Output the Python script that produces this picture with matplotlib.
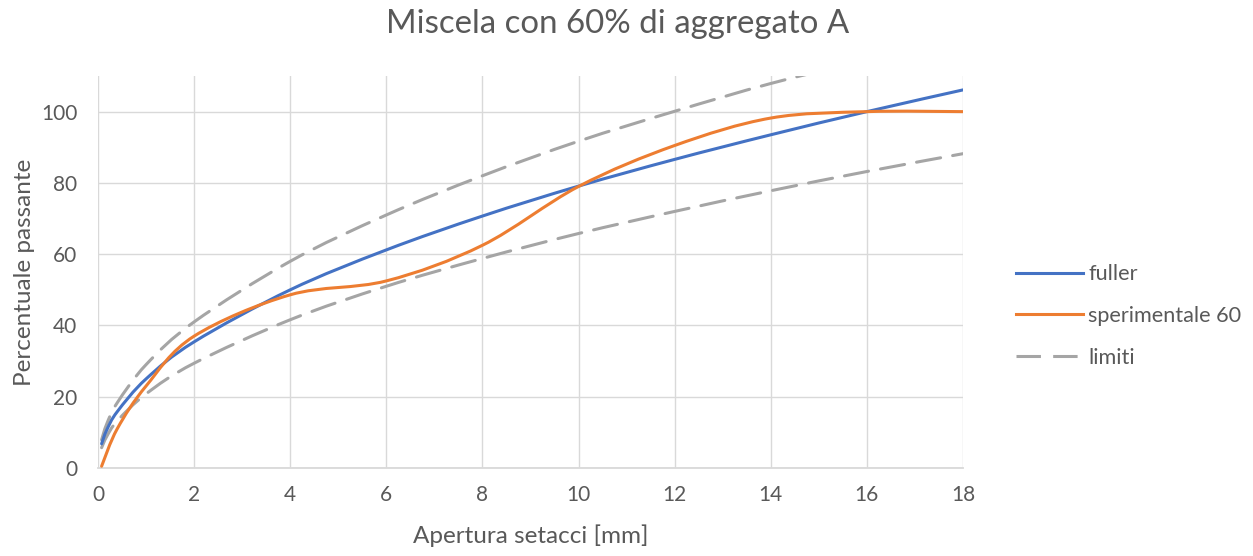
import numpy as np
import matplotlib.pyplot as plt
from matplotlib.path import Path
from matplotlib.patches import PathPatch
from matplotlib.lines import Line2D

# sieve openings [mm] and percent passing
sieves = [0.075, 0.18, 0.4, 1, 2, 4, 6, 8, 10, 12, 14, 16, 18]
fuller = [6.8, 10.6, 15.8, 25.0, 35.4, 50.0, 61.2, 70.7, 79.1, 86.6, 93.5, 100.0, 106.1]
lim_sup = [7.9, 12.3, 18.3, 29.0, 41.0, 58.0, 71.0, 82.0, 91.7, 100.1, 107.9, 114.5, 121.0]
lim_inf = [5.7, 8.8, 13.2, 20.8, 29.4, 41.6, 51.0, 58.8, 65.8, 72.0, 77.8, 83.2, 88.2]

sieves_exp = [0.075, 0.4, 1, 2, 4, 6, 8, 10, 12, 14, 16, 18]
sperim_60 = [0.5, 11.0, 23.0, 37.0, 48.6, 52.5, 62.5, 79.0, 90.5, 98.2, 100.0, 100.0]

BLUE = "#4472C4"
ORANGE = "#ED7D31"
GREY = "#A5A5A5"
TEXT = "#595959"
GRID = "#D9D9D9"

plt.rcParams["font.family"] = ["Lato", "DejaVu Sans"]


def smooth_path(x, y):
    # spreadsheet-style smoothed line: cubic Bezier through every point
    p = np.column_stack([x, y]).astype(float)
    n = len(p)
    verts = [p[0]]
    codes = [Path.MOVETO]
    for i in range(n - 1):
        p0 = p[i - 1] if i > 0 else p[i]
        p3 = p[i + 2] if i + 2 < n else p[i + 1]
        c1 = p[i] + (p[i + 1] - p0) / 6.0
        c2 = p[i + 1] - (p3 - p[i]) / 6.0
        verts += [c1, c2, p[i + 1]]
        codes += [Path.CURVE4] * 3
    return Path(verts, codes)


def draw_series(ax, x, y, **kw):
    patch = PathPatch(smooth_path(x, y), fill=False, transform=ax.transData,
                      capstyle="round", joinstyle="round", **kw)
    patch.set_clip_path(ax.patch)
    ax.add_patch(patch)


fig = plt.figure(figsize=(12.53, 5.56), dpi=100)
ax = fig.add_axes([98 / 1253, 88 / 556, 865 / 1253, 392 / 556])

lw = 2.2
dash = (0, (8, 4))
draw_series(ax, sieves, fuller, color=BLUE, lw=lw, zorder=4)
draw_series(ax, sieves_exp, sperim_60, color=ORANGE, lw=lw, zorder=5)
for lim in (lim_sup, lim_inf):
    draw_series(ax, sieves, lim, color=GREY, lw=lw, linestyle=dash, zorder=3)

ax.set_xlim(0, 18)
ax.set_ylim(0, 110)
ax.set_xticks(range(0, 19, 2))
ax.set_yticks(range(0, 101, 20))
ax.grid(True, color=GRID, lw=1.0)
ax.set_axisbelow(True)
for side in ("top", "right", "left"):
    ax.spines[side].set_visible(False)
ax.spines["bottom"].set_color(GRID)
ax.spines["bottom"].set_linewidth(1.3)
ax.tick_params(length=0, labelsize=15, labelcolor=TEXT)
ax.tick_params(axis="x", pad=12)
ax.tick_params(axis="y", pad=15)

ax.set_xlabel("Apertura setacci [mm]", fontsize=17.5, color=TEXT, labelpad=14)
ax.set_ylabel("Percentuale passante", fontsize=17.5, color=TEXT, labelpad=4)
fig.text(0.493, 0.957, "Miscela con 60% di aggregato A", ha="center", va="center",
         fontsize=23.8, color=TEXT)

handles = [
    Line2D([], [], color=BLUE, lw=lw),
    Line2D([], [], color=ORANGE, lw=lw),
    Line2D([], [], color=GREY, lw=lw, linestyle=dash),
]
fig.legend(handles, ["fuller", "sperimentale 60", "limiti"], loc="center left",
           bbox_to_anchor=(996 / 1253, 0.4317), frameon=False, fontsize=15.6,
           labelcolor=TEXT, handlelength=3.1, handletextpad=0.25, labelspacing=1.0)

fig.savefig("out.png", dpi=100)
